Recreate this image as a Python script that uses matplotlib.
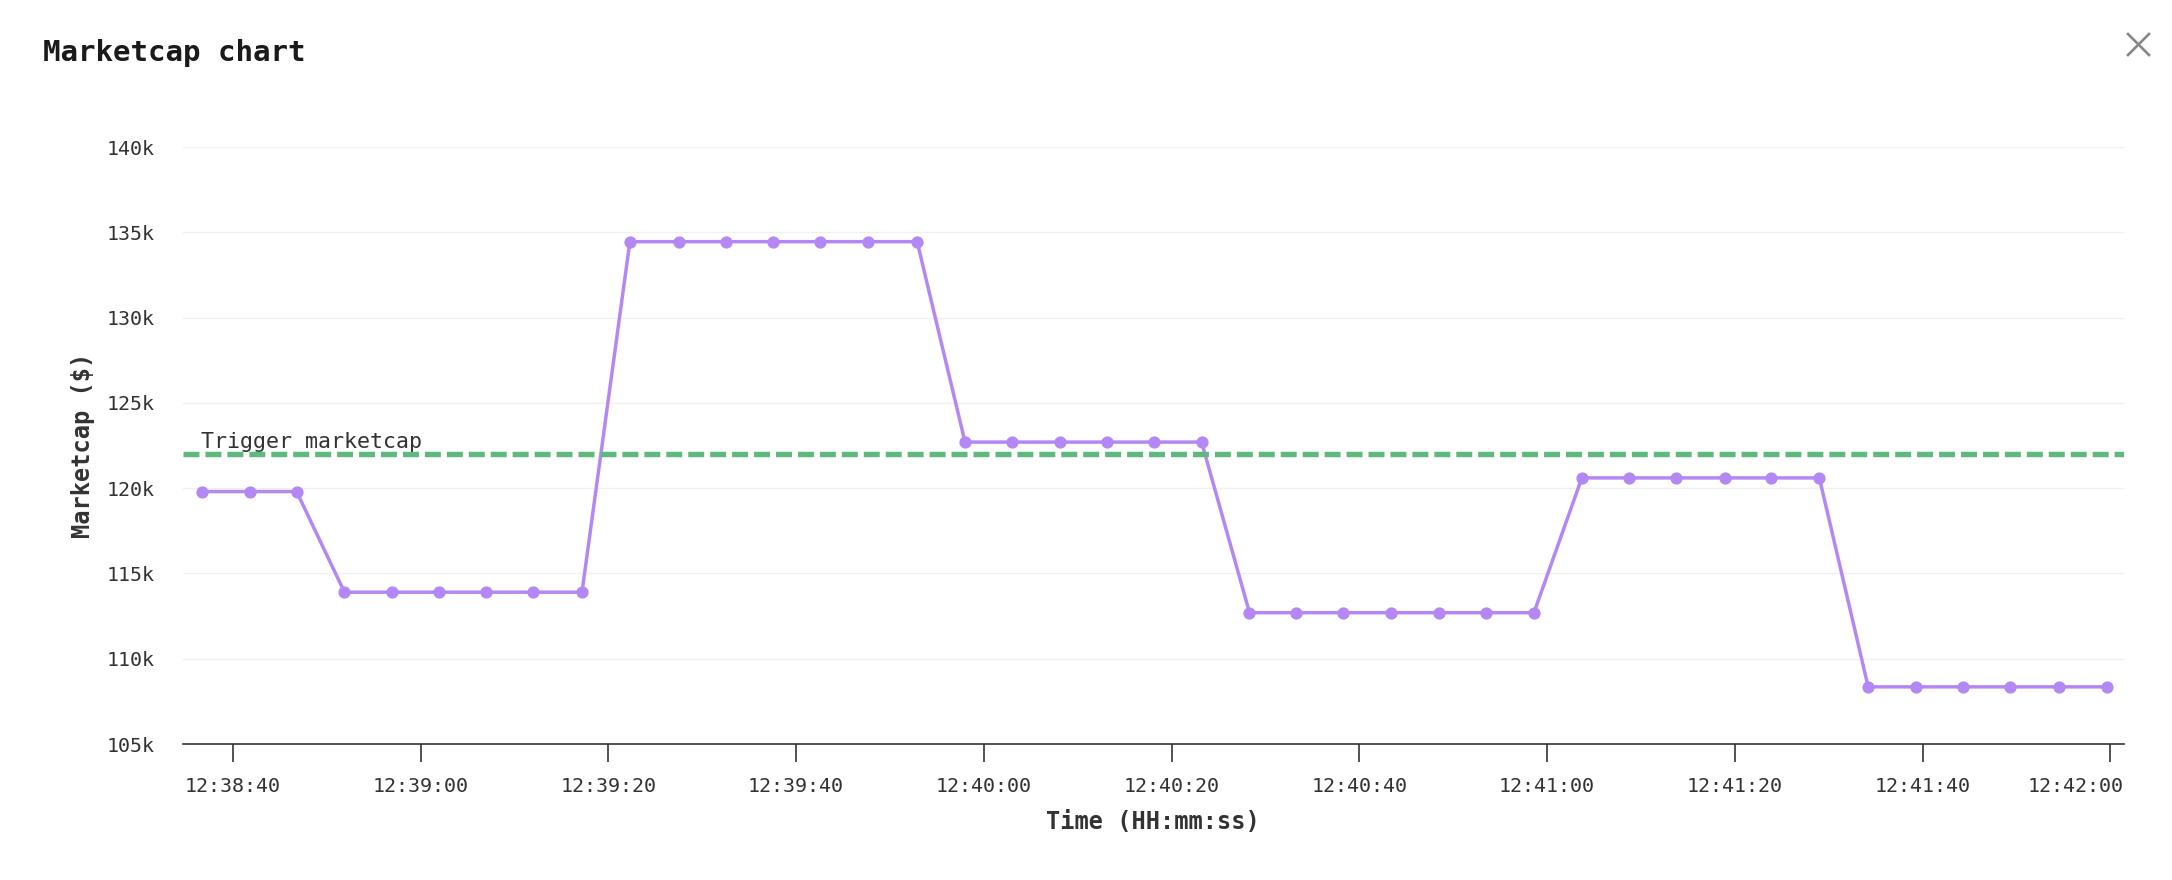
import pandas as pd
import matplotlib
matplotlib.use('Agg')
import matplotlib.pyplot as plt
import matplotlib.dates as mdates
from matplotlib.lines import Line2D
from matplotlib.transforms import ScaledTranslation

W, H = 2172, 880

times = [
    '12:38:36.7', '12:38:41.8', '12:38:46.8', '12:38:51.9', '12:38:57.0', '12:39:02.0',
    '12:39:07.0', '12:39:12.0', '12:39:17.2', '12:39:22.3', '12:39:27.5', '12:39:32.5',
    '12:39:37.5', '12:39:42.5', '12:39:47.7', '12:39:52.9', '12:39:58.0', '12:40:03.0',
    '12:40:08.1', '12:40:13.1', '12:40:18.1', '12:40:23.2', '12:40:28.3', '12:40:33.3',
    '12:40:38.3', '12:40:43.4', '12:40:48.5', '12:40:53.5', '12:40:58.6', '12:41:03.7',
    '12:41:08.7', '12:41:13.7', '12:41:18.9', '12:41:23.9', '12:41:29.0', '12:41:34.2',
    '12:41:39.3', '12:41:44.3', '12:41:49.3', '12:41:54.5', '12:41:59.6',
]
marketcap = [
    119.8, 119.8, 119.8,
    113.9, 113.9, 113.9, 113.9, 113.9, 113.9,
    134.45, 134.45, 134.45, 134.45, 134.45, 134.45, 134.45,
    122.7, 122.7, 122.7, 122.7, 122.7, 122.7,
    112.7, 112.7, 112.7, 112.7, 112.7, 112.7, 112.7,
    120.6, 120.6, 120.6, 120.6, 120.6, 120.6,
    108.35, 108.35, 108.35, 108.35, 108.35, 108.35,
]
trigger = 122
y_ticks = [105, 110, 115, 120, 125, 130, 135, 140]
x_ticks = ['12:38:40', '12:39:00', '12:39:20', '12:39:40', '12:40:00',
           '12:40:20', '12:40:40', '12:41:00', '12:41:20', '12:41:40', '12:42:00']

def to_dates(values):
    return pd.to_datetime(['2024-01-01 ' + v for v in values])

plt.rcParams['font.family'] = ['DejaVu Sans Mono']
plt.rcParams['lines.scale_dashes'] = False

fig = plt.figure(figsize=(W / 100, H / 100), dpi=100)
ax = fig.add_axes([183 / W, 1 - 744 / H, (2124 - 183) / W, (744 - 147) / H])

dates = to_dates(times)
ax.plot(dates, marketcap, color='#b388f5', lw=2.5, marker='o', ms=7.8, zorder=3)
ax.axhline(trigger, color='#5fb97f', lw=3.9, dashes=(11.5, 4.3), dash_capstyle='butt', zorder=4)
ax.annotate('Trigger marketcap', (dates[0], trigger), xytext=(-0.5, 4.3), textcoords='offset points',
            fontsize=15.6, color='#333333', va='baseline', ha='left')

ax.set_xlim(to_dates(['12:38:34.7'])[0], to_dates(['12:42:01.45'])[0])
ax.set_ylim(105, 140)
ax.set_yticks(y_ticks)
ax.set_yticklabels([f'{v}k' for v in y_ticks])
ax.set_xticks(mdates.date2num(to_dates(x_ticks)))
ax.set_xticklabels(x_ticks)

ax.grid(axis='y', color='#f0f0f0', lw=1)
ax.set_axisbelow(True)
for side in ['top', 'right', 'left']:
    ax.spines[side].set_visible(False)
ax.spines['bottom'].set_color('#333333')
ax.spines['bottom'].set_linewidth(1.2)
ax.tick_params(axis='y', length=0, pad=20.7, labelsize=14.4, labelcolor='#333333')
ax.tick_params(axis='x', length=13, width=1.2, color='#333333', pad=11, labelsize=14.4, labelcolor='#333333')

# last label is pushed inside the chart edge
last = ax.get_xticklabels()[-1]
last.set_ha('right')
last.set_transform(last.get_transform() + ScaledTranslation(13 / 100, 0, fig.dpi_scale_trans))

fig.text(43 / W, 1 - 61 / H, 'Marketcap chart', fontsize=21, fontweight='bold', color='#1a1a1a', va='baseline')
fig.text(1153 / W, 1 - 822 / H, 'Time (HH:mm:ss)', fontsize=17, fontweight='bold', color='#333333',
         ha='center', va='center')
fig.text(83 / W, 1 - 445 / H, 'Marketcap ($)', fontsize=17, fontweight='bold', color='#333333',
         rotation=90, ha='center', va='center')

# close icon
for x0, x1 in [(2128, 2149), (2149, 2128)]:
    fig.add_artist(Line2D([x0 / W, x1 / W], [1 - 34 / H, 1 - 55 / H], color='#888888', lw=1.9))

fig.savefig('out.png', dpi=100, facecolor='white')
